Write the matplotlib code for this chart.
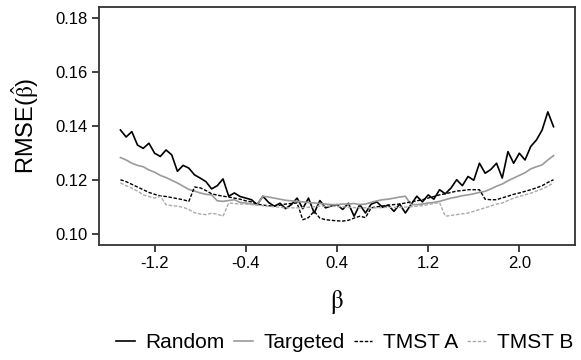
import numpy as np
import matplotlib
matplotlib.use("Agg")
import matplotlib.pyplot as plt

plt.rcParams['font.family'] = ['Liberation Sans', 'DejaVu Sans']
plt.rcParams['mathtext.fontset'] = 'stix'

beta = [round(-1.5 + 0.05 * i, 2) for i in range(77)]

random_rmse = [
    0.1386, 0.1360, 0.1380, 0.1330, 0.1318, 0.1337, 0.1300, 0.1288, 0.1312, 0.1294,
    0.1233, 0.1255, 0.1245, 0.1220, 0.1208, 0.1195, 0.1168, 0.1180, 0.1205, 0.1141,
    0.1153, 0.1140, 0.1134, 0.1128, 0.1110, 0.1141, 0.1118, 0.1104, 0.1115, 0.1095,
    0.1110, 0.1134, 0.1095, 0.1134, 0.1079, 0.1125, 0.1098, 0.1105, 0.1110, 0.1092,
    0.1115, 0.1067, 0.1110, 0.1079, 0.1112, 0.1120, 0.1100, 0.1108, 0.1085, 0.1112,
    0.1079, 0.1110, 0.1141, 0.1120, 0.1146, 0.1130, 0.1165, 0.1150, 0.1171, 0.1202,
    0.1180, 0.1214, 0.1200, 0.1263, 0.1226, 0.1240, 0.1263, 0.1208, 0.1306, 0.1263,
    0.1300, 0.1275, 0.1325, 0.1349, 0.1386, 0.1453, 0.1398,
]

targeted_rmse = [
    0.1284, 0.1275, 0.1263, 0.1255, 0.1250, 0.1238, 0.1230, 0.1218, 0.1210, 0.1200,
    0.1190, 0.1178, 0.1166, 0.1160, 0.1153, 0.1148, 0.1146, 0.1124, 0.1122, 0.1125,
    0.1128, 0.1118, 0.1116, 0.1112, 0.1110, 0.1141, 0.1138, 0.1134, 0.1130, 0.1126,
    0.1124, 0.1122, 0.1120, 0.1118, 0.1116, 0.1114, 0.1112, 0.1110, 0.1110, 0.1112,
    0.1112, 0.1114, 0.1110, 0.1112, 0.1118, 0.1124, 0.1128, 0.1130, 0.1134, 0.1138,
    0.1141, 0.1110, 0.1110, 0.1112, 0.1116, 0.1118, 0.1122, 0.1128, 0.1134, 0.1138,
    0.1143, 0.1146, 0.1150, 0.1155, 0.1159, 0.1168, 0.1178, 0.1186, 0.1198, 0.1208,
    0.1218, 0.1228, 0.1242, 0.1250, 0.1257, 0.1275, 0.1291,
]

tmst_a_rmse = [
    0.1202, 0.1195, 0.1185, 0.1175, 0.1165, 0.1155, 0.1148, 0.1142, 0.1140, 0.1136,
    0.1132, 0.1128, 0.1122, 0.1175, 0.1172, 0.1162, 0.1150, 0.1145, 0.1141, 0.1138,
    0.1134, 0.1130, 0.1124, 0.1120, 0.1112, 0.1108, 0.1106, 0.1104, 0.1108, 0.1112,
    0.1114, 0.1116, 0.1054, 0.1062, 0.1085, 0.1060, 0.1054, 0.1052, 0.1050, 0.1049,
    0.1052, 0.1060, 0.1067, 0.1062, 0.1098, 0.1102, 0.1105, 0.1108, 0.1110, 0.1112,
    0.1116, 0.1120, 0.1124, 0.1128, 0.1134, 0.1140, 0.1146, 0.1150, 0.1155, 0.1160,
    0.1162, 0.1165, 0.1165, 0.1165, 0.1130, 0.1128, 0.1128, 0.1135, 0.1141, 0.1148,
    0.1153, 0.1159, 0.1165, 0.1172, 0.1180, 0.1192, 0.1202,
]

tmst_b_rmse = [
    0.1190, 0.1180, 0.1171, 0.1160, 0.1146, 0.1140, 0.1134, 0.1141, 0.1110, 0.1106,
    0.1104, 0.1100, 0.1092, 0.1080, 0.1075, 0.1073, 0.1078, 0.1075, 0.1067, 0.1116,
    0.1114, 0.1112, 0.1112, 0.1110, 0.1108, 0.1106, 0.1104, 0.1102, 0.1100, 0.1098,
    0.1098, 0.1098, 0.1099, 0.1100, 0.1102, 0.1104, 0.1104, 0.1104, 0.1103, 0.1102,
    0.1100, 0.1099, 0.1098, 0.1098, 0.1098, 0.1098, 0.1099, 0.1100, 0.1100, 0.1100,
    0.1101, 0.1102, 0.1104, 0.1106, 0.1110, 0.1114, 0.1118, 0.1067, 0.1070, 0.1073,
    0.1076, 0.1079, 0.1085, 0.1092, 0.1098, 0.1105, 0.1112, 0.1116, 0.1125, 0.1134,
    0.1140, 0.1146, 0.1152, 0.1160, 0.1168, 0.1178, 0.1190,
]

series_labels = ["Random", "Targeted", "TMST A", "TMST B"]
x_ticks = [-1.2, -0.4, 0.4, 1.2, 2.0]
y_ticks = [0.10, 0.12, 0.14, 0.16, 0.18]

fig = plt.figure(figsize=(5.81, 3.60), dpi=100)
ax = fig.add_axes([0.170, 0.319, 0.820, 0.661])

ax.plot(beta, random_rmse, color='black', lw=1.2, ls='-', label=series_labels[0])
ax.plot(beta, targeted_rmse, color='#9a9a9a', lw=1.2, ls='-', label=series_labels[1])
ax.plot(beta, tmst_a_rmse, color='black', lw=1.0, ls=(0, (2.5, 1.2)), label=series_labels[2])
ax.plot(beta, tmst_b_rmse, color='#aaaaaa', lw=1.0, ls=(0, (2.5, 1.2)), label=series_labels[3])

ax.set_xlim(-1.69, 2.49)
ax.set_ylim(0.096, 0.184)
ax.set_xticks(x_ticks)
ax.set_xticklabels([f"{t:.1f}" for t in x_ticks])
ax.set_yticks(y_ticks)
ax.set_yticklabels([f"{t:.2f}" for t in y_ticks])

for s in ax.spines.values():
    s.set_color('#333333')
    s.set_linewidth(1.3)
ax.tick_params(axis='both', direction='out', length=5, width=1.3, color='#333333',
               labelsize=12, labelcolor='black', pad=3)

ax.set_xlabel(r'$\mathrm{\beta}$', fontsize=18, labelpad=12)
ax.set_ylabel(r'RMSE($\hat{\mathrm{\beta}}$)', fontsize=17, labelpad=10)

handles, labels = ax.get_legend_handles_labels()
fig.legend(handles, labels, loc='center', bbox_to_anchor=(0.593, 0.048), ncol=4,
           frameon=False, fontsize=15, handlelength=0.9, handletextpad=0.5,
           columnspacing=0.45, borderaxespad=0, borderpad=0)

fig.savefig('out.png', dpi=100)
